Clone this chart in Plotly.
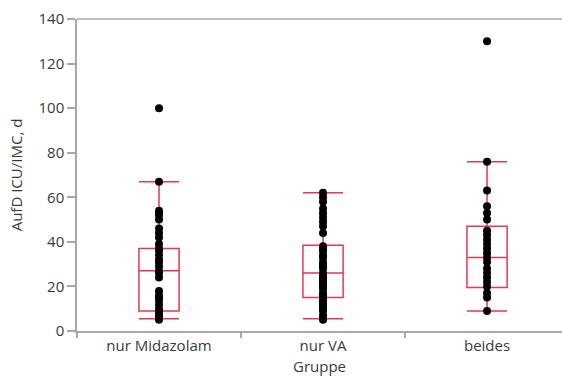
import plotly.graph_objects as go

categories = ["nur Midazolam", "nur VA", "beides"]

vals_midazolam = [100, 67, 54, 53, 52, 50, 46, 44, 42, 39, 37, 36, 34, 32, 31, 29, 27,
                  26, 24, 18, 16, 15, 14, 12, 10, 9, 8, 7, 6, 5]
vals_va = [62, 60, 58, 55, 53, 51, 49, 47, 44, 38, 37, 36, 34, 33, 31, 30, 29, 28, 26,
           25, 24, 23, 22, 21, 20, 19, 17, 16, 15, 14, 13, 12, 11, 10, 9, 7, 6, 5]
vals_beides = [130, 76, 63, 56, 53, 50, 45, 43, 41, 39, 37, 35, 33, 31, 28, 26, 24, 22,
               20, 17, 15, 9]

q1 = [9, 15, 19.5]
median = [27, 26, 33]
q3 = [37, 38.5, 47]
lowerfence = [5.5, 5.5, 9]
upperfence = [67, 62, 76]

yticks = [0, 20, 40, 60, 80, 100, 120, 140]
boundary_ticks = [-0.5, 0.5, 1.5, 2.5]

box_color = "#E5394F"
font_family = "Open Sans, Noto Sans, sans-serif"
text_color = "#3a3a3a"
axis_color = "#a8a8a8"
x_range = [-0.5, 2.457]

fig = go.Figure()
fig.add_trace(go.Box(
    x=categories, q1=q1, median=median, q3=q3,
    lowerfence=lowerfence, upperfence=upperfence,
    boxpoints=False, whiskerwidth=1, width=0.245,
    fillcolor="rgba(0,0,0,0)",
    line=dict(color=box_color, width=1.5),
    showlegend=False, hoverinfo="skip",
))

groups = [vals_midazolam, vals_va, vals_beides]
xs, ys, labels = [], [], []
for i, (cat, vals) in enumerate(zip(categories, groups)):
    xs += [i] * len(vals)
    ys += vals
    labels += [cat] * len(vals)
fig.add_trace(go.Scatter(
    x=xs, y=ys, mode="markers", xaxis="x2", yaxis="y",
    text=labels, hovertemplate="%{text}: %{y}<extra></extra>",
    marker=dict(color="black", size=8),
    showlegend=False,
))

fig.update_layout(
    width=562, height=376,
    margin=dict(l=77, r=0, t=19, b=45),
    paper_bgcolor="white", plot_bgcolor="white",
    font=dict(family=font_family, size=15, color=text_color),
    shapes=[dict(type="line", xref="paper", yref="paper", x0=0, x1=1, y0=1, y1=1,
                 line=dict(color=axis_color, width=1.5))],
    xaxis=dict(
        type="category", categoryorder="array", categoryarray=categories,
        range=x_range,
        showline=True, linecolor=axis_color, linewidth=1.5,
        ticks="", showgrid=False, zeroline=False,
        title=dict(text="Gruppe", standoff=8, font=dict(size=15)),
    ),
    xaxis2=dict(
        overlaying="x", anchor="y", side="bottom",
        range=x_range, tickvals=boundary_ticks,
        showticklabels=False, ticks="outside", ticklen=6, tickcolor=axis_color,
        tickwidth=1.5, showline=False, showgrid=False, zeroline=False,
    ),
    yaxis=dict(
        range=[0, 140], tickvals=yticks,
        showline=True, linecolor=axis_color, linewidth=1.5,
        ticks="outside", ticklen=8, tickcolor=axis_color, tickwidth=1.5,
        showgrid=False, zeroline=False,
        title=dict(text="AufD ICU/IMC, d", standoff=12, font=dict(size=15)),
    ),
)

fig.write_html("out.html")
